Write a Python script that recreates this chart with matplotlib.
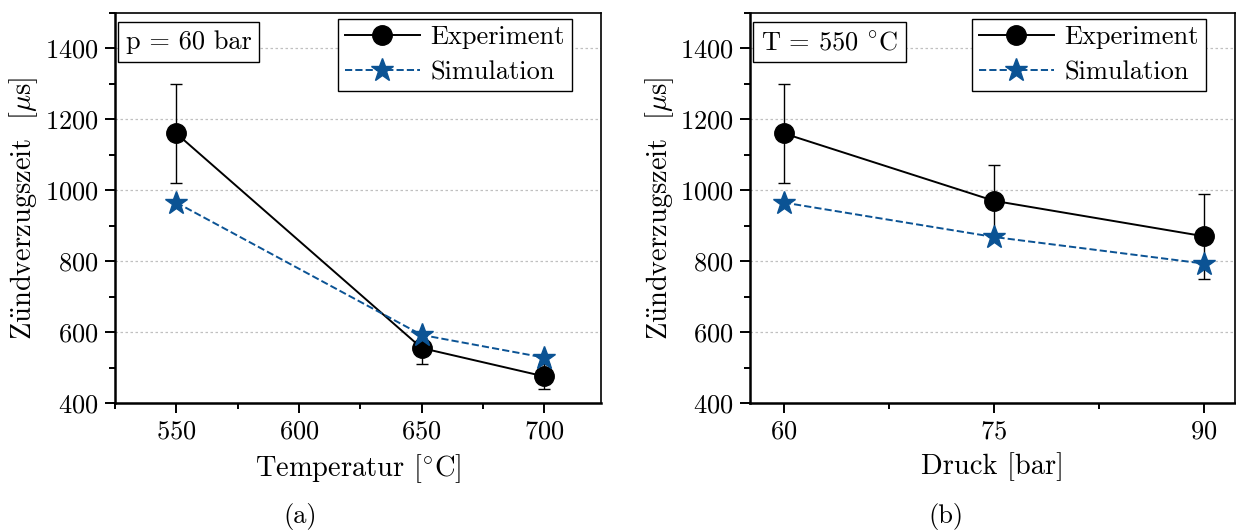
import numpy as np
import matplotlib.pyplot as plt
from matplotlib.ticker import MultipleLocator

plt.rcParams['font.family'] = ['cmr10', 'DejaVu Serif']
plt.rcParams['mathtext.fontset'] = 'cm'
plt.rcParams['axes.formatter.use_mathtext'] = True

# panel (a): variation of temperature at p = 60 bar
temp = [550, 650, 700]
exp_a = [1160, 555, 475]
err_a = [140, 45, 35]
sim_a = [965, 592, 528]

# panel (b): variation of pressure at T = 550 °C
druck = [60, 75, 90]
exp_b = [1160, 970, 870]
err_b = [140, 100, 120]
sim_b = [965, 868, 793]

blue = '#0b5394'

fig = plt.figure(figsize=(12.36, 5.31), dpi=100)
ax1 = fig.add_axes([0.093, 0.241, 0.393, 0.735])
ax2 = fig.add_axes([0.607, 0.241, 0.392, 0.735])


def draw(ax, x, y_exp, y_err, y_sim, xlabel, boxtext, xlim, xmajor, xminor, caption, cap_x):
    ax.grid(axis='y', color='#c0c0c0', linestyle=(0, (2, 2)), linewidth=0.9)
    ax.set_axisbelow(True)
    ax.errorbar(x, y_exp, yerr=y_err, fmt='none', ecolor='black', elinewidth=1.0,
                capsize=4.5, capthick=1.0, zorder=3)
    ax.plot(x, y_exp, '-o', color='black', lw=1.4, ms=14, label='Experiment', zorder=4)
    ax.plot(x, y_sim, '--*', color=blue, lw=1.4, ms=17, label='Simulation', zorder=5)

    ax.set_xlim(*xlim)
    ax.set_ylim(400, 1500)
    ax.xaxis.set_major_locator(MultipleLocator(xmajor))
    ax.xaxis.set_minor_locator(MultipleLocator(xminor))
    ax.yaxis.set_major_locator(MultipleLocator(200))
    ax.yaxis.set_minor_locator(MultipleLocator(100))
    ax.tick_params(which='both', direction='out', top=False, right=False, labelsize=19, width=1.4)
    ax.tick_params(which='major', length=7, pad=5)
    ax.tick_params(which='minor', length=4)
    for s in ['left', 'bottom']:
        ax.spines[s].set_linewidth(1.8)
    for s in ['top', 'right']:
        ax.spines[s].set_linewidth(1.2)

    ax.set_xlabel(xlabel, fontsize=20.5, labelpad=6)
    ax.set_ylabel(r'Z$\ddot{\rm u}$ndverzugszeit  [$\mu$s]', fontsize=20.5, labelpad=3)

    ax.text(0.022, 0.955, boxtext, transform=ax.transAxes, fontsize=19, va='top', ha='left',
            bbox=dict(boxstyle='square,pad=0.3', facecolor='white', edgecolor='black', linewidth=1.0))

    leg = ax.legend(loc='upper right', bbox_to_anchor=(0.94, 0.985), fontsize=19,
                    fancybox=False, edgecolor='black', framealpha=1, handlelength=2.85,
                    borderaxespad=0, borderpad=0.25, handletextpad=0.4, labelspacing=0.45)
    leg.get_frame().set_linewidth(1.0)

    fig.text(cap_x, 0.028, caption, fontsize=19, ha='center', va='center')


draw(ax1, temp, exp_a, err_a, sim_a, r'Temperatur [$^{\circ}$C]', 'p = 60 bar',
     (525, 723), 50, 25, '(a)', 0.243)
draw(ax2, druck, exp_b, err_b, sim_b, 'Druck [bar]', r'T = 550 $^{\circ}$C',
     (57.6, 92.2), 15, 7.5, '(b)', 0.765)

fig.savefig('out.png', dpi=100)
